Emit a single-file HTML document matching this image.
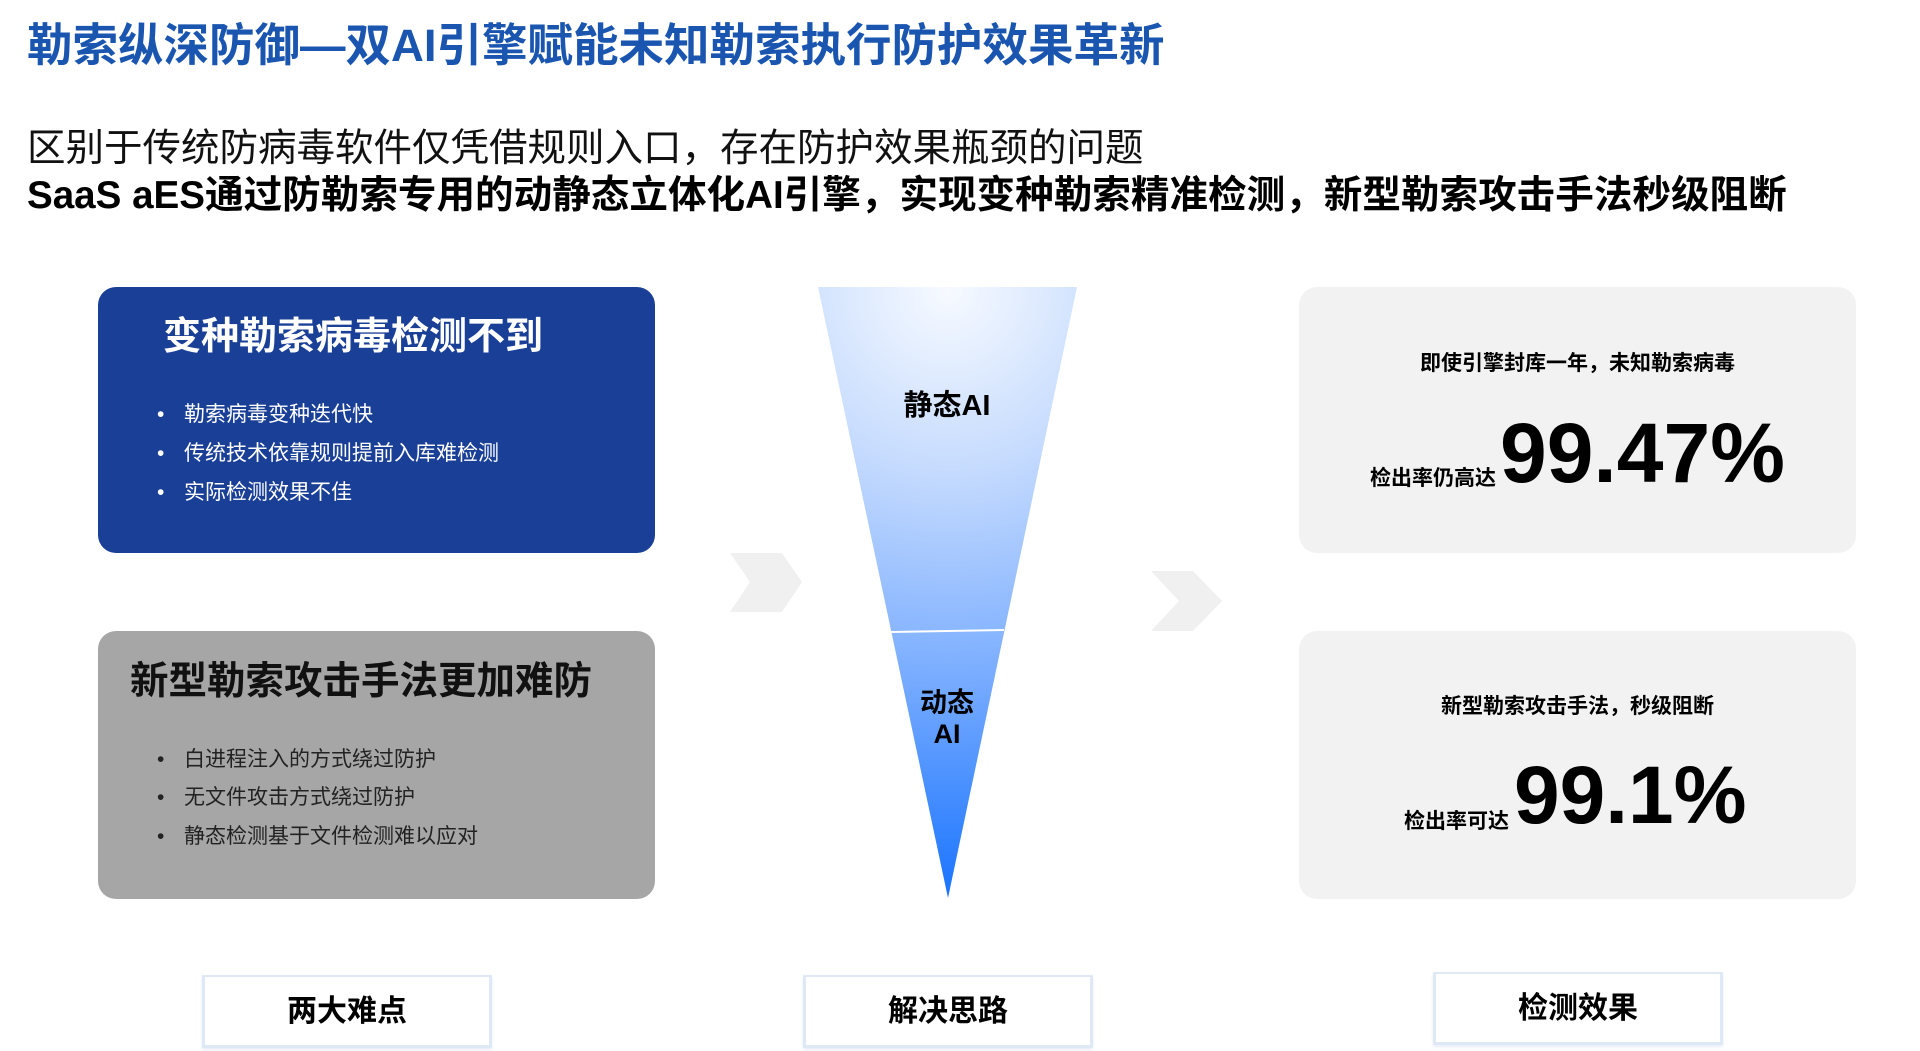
<!DOCTYPE html>
<html><head><meta charset="utf-8"><style>
*{margin:0;padding:0;box-sizing:border-box}
body{width:1920px;height:1051px;background:#fff;position:relative;overflow:hidden;font-family:"Liberation Sans","Noto Sans CJK SC",sans-serif}
.a{position:absolute;white-space:nowrap}
.box{position:absolute;border-radius:18px}
.bl{position:absolute;font-size:21px;line-height:1}
.bl span{position:absolute;left:-27px}
.lab{position:absolute;top:975px;height:73px;width:290px;background:#fff;border:3px solid #dfe9f6;border-top-width:2px;box-shadow:0 2px 3px #e8eef8;font-size:30px;font-weight:bold;text-align:center;line-height:70px}
</style></head><body>
<div class="a" style="left:27px;top:9px;font-size:45.5px;font-weight:bold;color:#1a56b0">勒索纵深防御—双AI引擎赋能未知勒索执行防护效果革新</div>
<div class="a" style="left:27px;top:117px;font-size:38.5px;color:#111">区别于传统防病毒软件仅凭借规则入口，存在防护效果瓶颈的问题</div>
<div class="a" style="left:27px;top:164px;font-size:38.6px;font-weight:bold;color:#000">SaaS aES通过防勒索专用的动静态立体化AI引擎，实现变种勒索精准检测，新型勒索攻击手法秒级阻断</div>

<div class="box" style="left:98px;top:287px;width:557px;height:266px;background:#1a3f97"></div>
<div class="a" style="left:163px;top:305px;font-size:38px;font-weight:bold;color:#fff">变种勒索病毒检测不到</div>
<div class="bl" style="left:184px;top:404px;color:#fff"><span>•</span>勒索病毒变种迭代快</div>
<div class="bl" style="left:184px;top:443px;color:#fff"><span>•</span>传统技术依靠规则提前入库难检测</div>
<div class="bl" style="left:184px;top:482px;color:#fff"><span>•</span>实际检测效果不佳</div>

<div class="box" style="left:98px;top:631px;width:557px;height:268px;background:#a6a6a6"></div>
<div class="a" style="left:130px;top:650px;font-size:38.5px;font-weight:bold;color:#111">新型勒索攻击手法更加难防</div>
<div class="bl" style="left:184px;top:749px;color:#222"><span>•</span>白进程注入的方式绕过防护</div>
<div class="bl" style="left:184px;top:787px;color:#222"><span>•</span>无文件攻击方式绕过防护</div>
<div class="bl" style="left:184px;top:826px;color:#222"><span>•</span>静态检测基于文件检测难以应对</div>

<svg class="a" style="left:0;top:0" width="1920" height="1051">
<defs>
<radialGradient id="g" cx="948" cy="290" r="620" gradientUnits="userSpaceOnUse">
<stop offset="0" stop-color="#f7faff"/><stop offset="0.3" stop-color="#c4dafe"/><stop offset="0.6" stop-color="#7fb0ff"/><stop offset="1" stop-color="#1470ff"/>
</radialGradient>
</defs>
<polygon points="730,553 782,553 802,582 782,612 730,612 750,582" fill="#f0f0f0"/>
<polygon points="1151,571 1193,571 1222,601 1193,631 1151,631 1179,601" fill="#f0f0f0"/>
<polygon points="818,287 1077,287 948,898" fill="url(#g)"/>
<line x1="891" y1="632" x2="1004" y2="630" stroke="#fff" stroke-width="2"/>
<text x="947" y="415" font-size="29" font-weight="bold" text-anchor="middle" font-family="Liberation Sans,Noto Sans CJK SC,sans-serif">静态AI</text>
<text x="947" y="712" font-size="27" font-weight="bold" text-anchor="middle" font-family="Liberation Sans,Noto Sans CJK SC,sans-serif">动态</text>
<text x="947" y="743" font-size="27" font-weight="bold" text-anchor="middle" font-family="Liberation Sans,Noto Sans CJK SC,sans-serif">AI</text>
</svg>

<div class="box" style="left:1299px;top:287px;width:557px;height:266px;background:#f2f2f2"></div>
<div class="a" style="left:1299px;width:557px;text-align:center;top:347px;font-size:21px;font-weight:bold">即使引擎封库一年，未知勒索病毒</div>
<div class="a" style="left:1370px;top:462px;font-size:21px;font-weight:bold">检出率仍高达</div>
<div class="a" style="left:1500px;top:407px;font-size:84px;font-weight:bold;line-height:92px">99.47%</div>

<div class="box" style="left:1299px;top:631px;width:557px;height:268px;background:#f2f2f2"></div>
<div class="a" style="left:1299px;width:557px;text-align:center;top:690px;font-size:21px;font-weight:bold">新型勒索攻击手法，秒级阻断</div>
<div class="a" style="left:1404px;top:805px;font-size:21px;font-weight:bold">检出率可达</div>
<div class="a" style="left:1514px;top:750px;font-size:82px;font-weight:bold;line-height:92px">99.1%</div>

<div class="lab" style="left:202px">两大难点</div>
<div class="lab" style="left:803px">解决思路</div>
<div class="lab" style="left:1433px;top:972px">检测效果</div>
</body></html>
